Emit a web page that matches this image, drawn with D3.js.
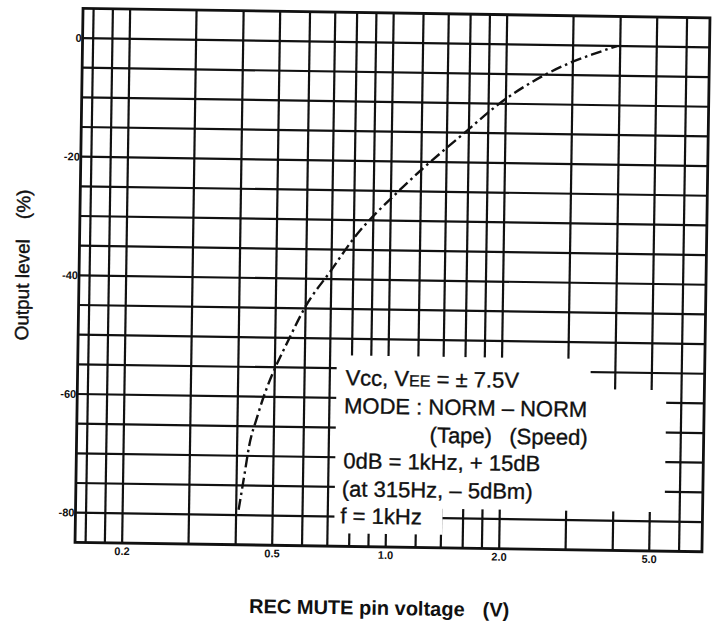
<!DOCTYPE html>
<html>
<head>
<meta charset="utf-8">
<script src="https://cdn.jsdelivr.net/npm/d3@7"></script>
<style>
  html, body { margin: 0; padding: 0; background: #fff; }
  svg { display: block; }
  text { font-family: "Liberation Sans", Arial, sans-serif; fill: #111; }
</style>
</head>
<body>
<div class="chart"></div>
<script>
// curve
const muteVoltage = [0.406, 0.42, 0.43, 0.452, 0.553, 0.597, 0.701, 0.795, 1.036, 1.204, 1.514, 1.987, 2.48, 2.96, 3.47, 3.92];
const outputLevel = [-79.1, -72.9, -68.5, -63.2, -49.2, -44.9, -38.4, -33.3, -25.3, -21.3, -15.7, -9.3, -5.35, -2.9, -1.2, 0];

// grid + tick labels
const gridVoltages = [0.16, 0.18, 0.2, 0.3, 0.4, 0.5, 0.6, 0.7, 0.8, 0.9, 1.0, 1.2, 1.4, 1.6, 1.8, 2.0, 3.0, 4.0, 5.0, 6.0];
const gridLevels = [0, -5, -10, -15, -20, -25, -30, -35, -40, -45, -50, -55, -60, -65, -70, -75, -80];
const voltageTicks = [0.2, 0.5, 1.0, 2.0, 5.0];
const voltageLabels = ["0.2", "0.5", "1.0", "2.0", "5.0"];
const levelTicks = [0, -20, -40, -60, -80];
const levelLabels = ["0", "-20", "-40", "-60", "-80"];

const width = 718;
const height = 629;
const ink = "#111";

const svg = d3.select(".chart").append("svg").attr("width", width).attr("height", height);
// scanned page is a little crooked
const g = svg.append("g").attr("transform", "rotate(0.86, 390, 280)");

const x = d3.scaleLog().domain([0.15, 6.9]).range([79, 706]);
const y = d3.scaleLinear().domain([5, -85]).range([13, 547]);

// grid
g.append("g").selectAll("line").data(gridVoltages).enter().append("line")
   .attr("x1", (d) => x(d)).attr("x2", (d) => x(d))
   .attr("y1", y(5)).attr("y2", y(-85))
   .attr("stroke", ink).attr("stroke-width", 2.2);

g.append("g").selectAll("line").data(gridLevels).enter().append("line")
   .attr("x1", x(0.15)).attr("x2", x(6.9))
   .attr("y1", (d) => y(d)).attr("y2", (d) => y(d))
   .attr("stroke", ink).attr("stroke-width", 2.2);

g.append("rect")
   .attr("x", x(0.15)).attr("y", y(5))
   .attr("width", x(6.9) - x(0.15)).attr("height", y(-85) - y(5))
   .attr("fill", "none").attr("stroke", ink).attr("stroke-width", 2.8);

// white patches behind the condition notes
const masks = [
   [338, 356, 592, 392],
   [338, 386, 668, 508],
   [338, 505, 446, 534]
];
g.append("g").selectAll("rect").data(masks).enter().append("rect")
   .attr("x", (d) => d[0]).attr("y", (d) => d[1])
   .attr("width", (d) => d[2] - d[0]).attr("height", (d) => d[3] - d[1])
   .attr("fill", "#fff");

// curve
const points = muteVoltage.map((v, i) => [v, outputLevel[i]]);
const line = d3.line().x((d) => x(d[0])).y((d) => y(d[1])).curve(d3.curveMonotoneX);
g.append("path")
   .attr("d", line(points))
   .attr("fill", "none")
   .attr("stroke", ink)
   .attr("stroke-width", 2.4)
   .attr("stroke-dasharray", "11 4 2.5 4");

// tick labels
g.append("g").selectAll("text").data(levelTicks).enter().append("text")
   .attr("x", 78).attr("y", (d) => y(d)).attr("dy", "0.35em")
   .attr("text-anchor", "end")
   .style("font-size", "11px").style("font-weight", "bold")
   .text((d, i) => levelLabels[i]);

g.append("g").selectAll("text").data(voltageTicks).enter().append("text")
   .attr("x", (d) => x(d)).attr("y", y(-85) + 12)
   .attr("text-anchor", "middle")
   .style("font-size", "11px").style("font-weight", "bold")
   .text((d, i) => voltageLabels[i]);

// axis titles
const yTitle = g.append("text")
   .attr("transform", "translate(29, 346) rotate(-90)")
   .style("font-size", "19px")
   .attr("stroke", ink).attr("stroke-width", 0.4);
yTitle.append("tspan").text("Output level");
yTitle.append("tspan").attr("dx", 20).text("(%)");

const xTitle = g.append("text")
   .attr("x", 254).attr("y", 615)
   .style("font-size", "20px").style("font-weight", "bold");
xTitle.append("tspan").text("REC MUTE pin voltage");
xTitle.append("tspan").attr("dx", 18).text("(V)");

// condition notes
const note = g.append("g").style("font-size", "22px")
   .attr("stroke", ink).attr("stroke-width", 0.35);
const vcc = note.append("text").attr("x", 347).attr("y", 386);
vcc.append("tspan").text("Vcc,  V");
vcc.append("tspan").style("font-size", "16px").text("EE");
vcc.append("tspan").text(" = \u00b1 7.5V");
note.append("text").attr("x", 346).attr("y", 414).text("MODE :  NORM \u2013 NORM");
note.append("text").attr("x", 432).attr("y", 442).text("(Tape)");
note.append("text").attr("x", 590).attr("y", 442).attr("text-anchor", "end").text("(Speed)");
note.append("text").attr("x", 346).attr("y", 469).text("0dB = 1kHz, + 15dB");
note.append("text").attr("x", 345).attr("y", 497).text("(at  315Hz,  \u2013 5dBm)");
note.append("text").attr("x", 344).attr("y", 524).text("f = 1kHz");
</script>
</body>
</html>
